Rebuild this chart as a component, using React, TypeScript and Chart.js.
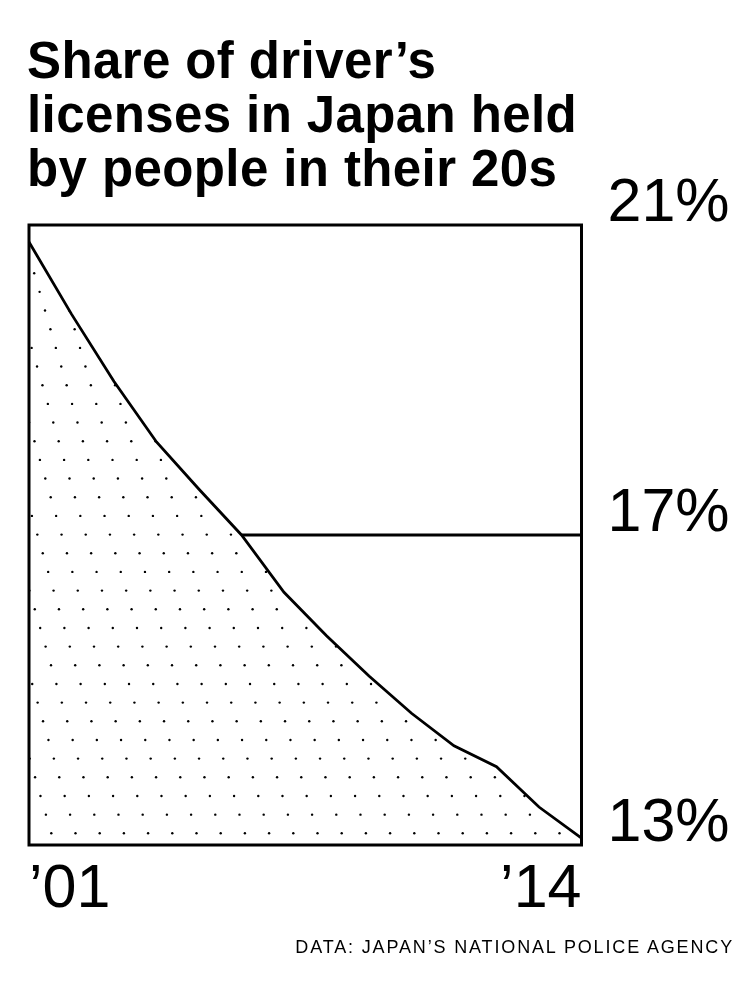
import { useEffect, useRef } from "react";
import { Chart, registerables } from "chart.js";

Chart.register(...registerables);

// ---- data ----
const years = ["2001", "2002", "2003", "2004", "2005", "2006", "2007", "2008", "2009", "2010", "2011", "2012", "2013", "2014"];
const licenseShare = [20.78, 19.85, 18.98, 18.2, 17.59, 17.0, 16.26, 15.7, 15.18, 14.7, 14.28, 14.01, 13.49, 13.09];
const referenceLevel = [null, null, null, null, null, 17, 17, 17, 17, 17, 17, 17, 17, 17];
const yTickValues = [13, 17, 21];
const xTickYears = ["2001", "2014"];
const titleLines = ["Share of driver’s", "licenses in Japan held", "by people in their 20s"];
const sourceText = "DATA: JAPAN’S NATIONAL POLICE AGENCY";

const FONT = "'Liberation Sans', Arial, Helvetica, sans-serif";

const dotsPlugin = {
  id: "stippleFill",
  beforeDatasetsDraw(chart: any) {
    const meta = chart.getDatasetMeta(0);
    const pts = meta.data;
    if (!pts || !pts.length) return;
    const { left, right, top, bottom } = chart.chartArea;
    const ctx = chart.ctx;
    ctx.save();
    ctx.beginPath();
    ctx.moveTo(pts[0].x, bottom);
    pts.forEach((p: any) => ctx.lineTo(p.x, p.y));
    ctx.lineTo(pts[pts.length - 1].x, bottom);
    ctx.closePath();
    ctx.clip();
    ctx.fillStyle = "#000";
    const dx = 24.2;
    const dy = 18.67;
    const shift = 5.41;
    const ox = left + 5.2;
    const oy = top + 48.2;
    for (let k = -4; oy + k * dy < bottom + dy; k++) {
      const y = oy + k * dy;
      const off = (((k * shift) % dx) + dx) % dx;
      for (let x = ox + off - dx * 2; x < right + dx; x += dx) {
        ctx.beginPath();
        ctx.arc(x, y, 1.2, 0, Math.PI * 2);
        ctx.fill();
      }
    }
    ctx.restore();
  },
};

const framePlugin = {
  id: "frameBox",
  afterDatasetsDraw(chart: any) {
    const { left, right, top, bottom } = chart.chartArea;
    const ctx = chart.ctx;
    ctx.save();
    ctx.strokeStyle = "#000";
    ctx.lineWidth = 3;
    ctx.strokeRect(left, top, right - left, bottom - top);
    ctx.restore();
  },
};

function ChartCanvas() {
  const ref = useRef<HTMLCanvasElement | null>(null);
  useEffect(() => {
    if (!ref.current) return;
    const chart = new Chart(ref.current, {
      type: "line",
      data: {
        labels: years,
        datasets: [
          {
            data: licenseShare,
            borderColor: "#000",
            borderWidth: 2.8,
            pointRadius: 0,
            tension: 0,
            fill: false,
          },
          {
            data: referenceLevel as any,
            borderColor: "#000",
            borderWidth: 2.8,
            pointRadius: 0,
            tension: 0,
            fill: false,
            spanGaps: false,
          },
        ],
      },
      options: {
        responsive: false,
        animation: false,
        devicePixelRatio: 1,
        layout: { padding: { left: 29, top: 225, right: 0, bottom: 0 } },
        plugins: { legend: { display: false }, tooltip: { enabled: false }, title: { display: false } },
        scales: {
          x: {
            type: "category",
            grid: { display: false, drawTicks: false },
            border: { display: false },
            afterBuildTicks: (scale: any) => {
              scale.ticks = scale.ticks.filter((t: any) => xTickYears.includes(years[t.value]));
            },
            afterFit: (scale: any) => {
              scale.height = 143;
            },
            ticks: {
              autoSkip: false,
              maxRotation: 0,
              minRotation: 0,
              align: "inner",
              padding: 9,
              color: "#000",
              font: { family: FONT, size: 61 },
              callback: function (this: any, value: any) {
                return "’" + String(this.getLabelForValue(value)).slice(2);
              },
            },
          },
          y: {
            type: "linear",
            position: "right",
            min: 13,
            max: 21,
            grid: { display: false, drawTicks: false },
            border: { display: false },
            afterBuildTicks: (scale: any) => {
              scale.ticks = yTickValues.map((v) => ({ value: v }));
            },
            afterFit: (scale: any) => {
              scale.width = 174.5;
            },
            ticks: {
              padding: 26,
              labelOffset: -21,
              color: "#000",
              font: { family: FONT, size: 61 },
              callback: (v: any) => `${v}%`,
            },
          },
        },
      },
      plugins: [dotsPlugin, framePlugin],
    } as any);
    return () => chart.destroy();
  }, []);
  return <canvas ref={ref} width={756} height={988} style={{ position: "absolute", left: 0, top: 0, width: 756, height: 988 }} />;
}

export default function App() {
  return (
    <div style={{ position: "absolute", left: 0, top: 0, width: 756, height: 988, background: "#fff", overflow: "hidden" }}>
      <ChartCanvas />
      <div
        style={{
          position: "absolute",
          left: 27,
          top: 34,
          fontFamily: FONT,
          fontWeight: 700,
          fontSize: 51,
          lineHeight: "54.2px",
          letterSpacing: "0.4px",
          color: "#000",
          whiteSpace: "nowrap",
        }}
      >
        {titleLines.map((l, i) => (
          <div key={i}>{l}</div>
        ))}
      </div>
      <div
        style={{
          position: "absolute",
          right: 22,
          top: 938,
          fontFamily: FONT,
          fontSize: 18,
          lineHeight: "18px",
          letterSpacing: "1.85px",
          color: "#000",
          whiteSpace: "nowrap",
        }}
      >
        {sourceText}
      </div>
    </div>
  );
}
